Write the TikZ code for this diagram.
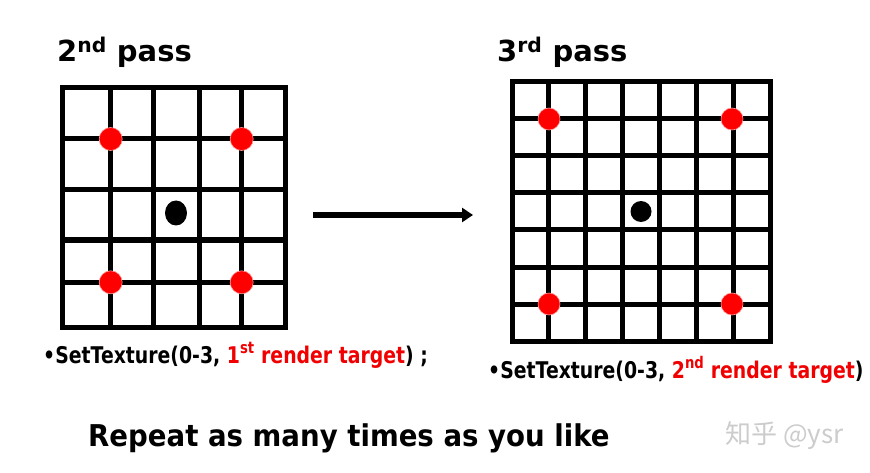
\documentclass[tikz,border=0pt]{standalone}
\usepackage{fontspec}
\setmainfont{DejaVu Sans}
\newfontfamily\cjk{Noto Sans CJK SC}
\usetikzlibrary{arrows.meta}
\usetikzlibrary{shapes.geometric}

\definecolor{dotred}{RGB}{255,0,0}
\definecolor{txtred}{RGB}{240,0,0}

\begin{document}
\begin{tikzpicture}[x=1pt, y=-1pt,
    gridline/.style={line width=5pt, line cap=rect},
    reddot/.style={circle, fill=dotred, draw=dotred!40, line width=0.6pt, minimum size=23pt, inner sep=0pt},
    blackdot/.style={ellipse, fill=black, inner sep=0pt},
    title/.style={anchor=base west, inner sep=0pt, font=\bfseries\fontsize{29}{33}\selectfont},
    call/.style={anchor=base west, inner sep=0pt, font=\bfseries\fontsize{23}{27}\selectfont}]

    \useasboundingbox (0,0) rectangle (870,473);

    % Left grid (2nd pass)
    \foreach \x in {62, 110.7, 153.3, 199.3, 241.7, 285}
        \draw[gridline] (\x,88) -- (\x,327);
    \foreach \y in {88, 139, 190, 240, 282.3, 327}
        \draw[gridline] (62,\y) -- (285,\y);
    \node[reddot] (la) at (110.7,139) {};
    \node[reddot] (lb) at (241.7,139) {};
    \node[reddot] (lc) at (110.7,282.3) {};
    \node[reddot] (ld) at (241.7,282.3) {};
    \node[blackdot, minimum width=22pt, minimum height=25pt] (lcenter) at (176,213) {};

    % Right grid (3rd pass)
    \foreach \i in {0,...,7} {
        \draw[gridline] ({512+36.86*\i},82) -- ({512+36.86*\i},341);
        \draw[gridline] (512,{82+37*\i}) -- (770,{82+37*\i});
    }
    \node[reddot, minimum size=22pt] (ra) at (549,119) {};
    \node[reddot, minimum size=22pt] (rb) at (732,119) {};
    \node[reddot, minimum size=22pt] (rc) at (549,304) {};
    \node[reddot, minimum size=22pt] (rd) at (732,304) {};
    \node[blackdot, minimum width=21pt, minimum height=21pt] (rcenter) at (641,211.5) {};

    % Titles
    \node[title] (pass2) at (57,62) {2\textsuperscript{nd} pass};
    \node[title] (pass3) at (497,62) {3\textsuperscript{rd} pass};

    % Arrow between the passes
    \coordinate (arrowstart) at (313,215);
    \coordinate (arrowend) at (473,215);
    \draw[line width=5.5pt, -{Triangle[length=11pt, width=14pt]}] (arrowstart) -- (arrowend);

    % Calls
    \node[call] (call2) at (43,363) {\scalebox{0.82}[1]{\textbullet SetTexture(0-3, \textcolor{txtred}{1\textsuperscript{st} render target}) ;}};
    \node[call] (call3) at (488,378) {\scalebox{0.82}[1]{\textbullet SetTexture(0-3, \textcolor{txtred}{2\textsuperscript{nd} render target})}};

    % Bottom line
    \node[anchor=base west, inner sep=0pt, font=\bfseries\fontsize{30}{34}\selectfont] (repeat) at (88,446)
        {\scalebox{0.92}[1]{Repeat as many times as you like}};

    % Watermark
    \node[anchor=base west, inner sep=0pt, text=black!20, font=\cjk\fontsize{26}{30}\selectfont] (mark) at (725,443) {知乎 @ysr};
\end{tikzpicture}
\end{document}
